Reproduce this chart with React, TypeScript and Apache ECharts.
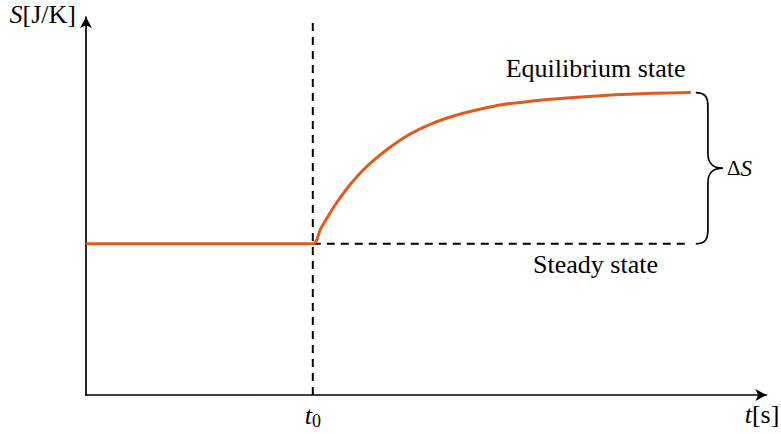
import React, { useEffect, useRef } from "react";
import * as echarts from "echarts";

// Time axis values (arbitrary units, t0 = 3)
const tFlat = [0, 3];
const sFlat = [2, 2];
const tRise = [3, 3.1, 3.2, 3.3, 3.4, 3.5, 3.65, 3.8, 4, 4.2, 4.4, 4.6, 4.8, 5, 5.25, 5.5, 5.75, 6, 6.5, 7, 7.5, 8];
const sRise = [2, 2.19, 2.36, 2.52, 2.66, 2.79, 2.96, 3.1, 3.26, 3.4, 3.51, 3.6, 3.67, 3.73, 3.79, 3.84, 3.87, 3.9, 3.94, 3.97, 3.99, 4.0];
const t0 = 3;
const tEnd = 8;
const sSteady = 2;
const sEquil = 4;
const xMax = 9;
const yMax = 5;
const labelT = 6.74;

const FONT = "Liberation Serif";
const ORANGE = "#DE5A1F";

const curve = [...tFlat.map((t, i) => [t, sFlat[i]]), ...tRise.slice(1).map((t, i) => [t, sRise[i + 1]])];

const braceD =
  "M0,0 C9,0 12,4 12,14 L12,60 C12,70 16,75 27,75 C16,75 12,80 12,90 L12,136 C12,146 9,150 0,150";

export default function App() {
  const ref = useRef<HTMLDivElement>(null);
  useEffect(() => {
    if (!ref.current) return;
    try {
      echarts.graphic.registerShape("brace", echarts.graphic.extendPath(braceD, {}));
    } catch (e) {}
    const chart = echarts.init(ref.current, null, { renderer: "svg" });
    const axisCommon = {
      type: "value" as const,
      axisLine: {
        show: true,
        symbol: ["none", "arrow"],
        symbolSize: [9, 11],
        lineStyle: { color: "#000", width: 1.7 },
      },
      axisTick: { show: false },
      axisLabel: { show: false },
      splitLine: { show: false },
    };
    const dash = { color: "#000", width: 2, type: [8, 6] };
    chart.setOption({
      animation: false,
      grid: { left: 86, top: 17, right: 14.6, bottom: 39 },
      xAxis: { ...axisCommon, min: 0, max: xMax },
      yAxis: { ...axisCommon, min: 0, max: yMax },
      series: [
        {
          type: "line",
          data: [
            [t0, 0],
            [t0, yMax],
          ],
          symbol: "none",
          lineStyle: dash,
          z: 1,
        },
        {
          type: "line",
          data: [
            [t0, sSteady],
            [tEnd, sSteady],
          ],
          symbol: "none",
          lineStyle: dash,
          z: 1,
        },
        {
          type: "line",
          data: curve,
          symbol: "none",
          smooth: 0.3,
          lineStyle: { color: ORANGE, width: 3 },
          z: 3,
        },
      ],
    });
    const px = (p: number[]) => chart.convertToPixel({ gridIndex: 0 }, p) as number[];
    const top = px([tEnd, sEquil]);
    const bot = px([tEnd, sSteady]);
    const origin = px([0, 0]);
    const xEnd = px([xMax, 0]);
    const yEnd = px([0, yMax]);
    const t0p = px([t0, 0]);
    const lab = px([labelT, 0]);
    const braceX = top[0] + 5;
    const braceScale = (bot[1] - top[1]) / 150;
    const rich = {
      i: { fontFamily: FONT, fontStyle: "italic", fontSize: 26, fill: "#000" },
      n: { fontFamily: FONT, fontSize: 26, fill: "#000" },
      sub: { fontFamily: FONT, fontSize: 18, fill: "#000", padding: [11, 0, 0, 0] },
    };
    chart.setOption({
      graphic: [
        {
          type: "brace",
          x: braceX,
          y: top[1],
          scaleX: braceScale,
          scaleY: braceScale,
          style: { fill: "none", stroke: "#000", lineWidth: 1.7 },
          silent: true,
        },
        {
          type: "text",
          x: braceX + 27 * braceScale + 4,
          y: (top[1] + bot[1]) / 2,
          style: {
            text: "{n|Δ}{i|S}",
            rich: { ...rich, n: { ...rich.n, fontSize: 21 }, i: { ...rich.i, fontSize: 23 } },
            verticalAlign: "middle",
            align: "left",
          },
        },
        {
          type: "text",
          x: lab[0],
          y: top[1] - 11,
          style: {
            text: "Equilibrium state",
            fontFamily: FONT,
            fontSize: 26,
            fill: "#000",
            align: "center",
            verticalAlign: "bottom",
          },
        },
        {
          type: "text",
          x: lab[0],
          y: bot[1] + 8,
          style: {
            text: "Steady state",
            fontFamily: FONT,
            fontSize: 26,
            fill: "#000",
            align: "center",
            verticalAlign: "top",
          },
        },
        {
          type: "text",
          x: t0p[0],
          y: origin[1] + 6,
          style: {
            text: "{i|t}{sub|0}",
            rich,
            align: "center",
            verticalAlign: "top",
          },
        },
        {
          type: "text",
          x: xEnd[0] + 13,
          y: origin[1] + 6,
          style: {
            text: "{i|t}{n|[s]}",
            rich,
            align: "right",
            verticalAlign: "top",
          },
        },
        {
          type: "text",
          x: yEnd[0] - 10,
          y: yEnd[1] - 16,
          style: {
            text: "{i|S}{n|[J/K]}",
            rich,
            align: "right",
            verticalAlign: "top",
          },
        },
      ],
    });
    return () => chart.dispose();
  }, []);
  return (
    <div
      ref={ref}
      style={{ position: "fixed", left: 0, top: 0, width: 781, height: 434, background: "#fff" }}
    />
  );
}
